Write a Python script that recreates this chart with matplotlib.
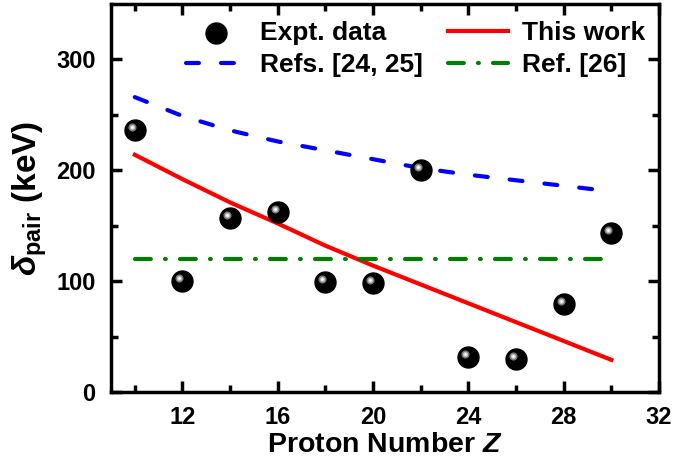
import numpy as np
import matplotlib.pyplot as plt
from matplotlib.transforms import offset_copy

plt.rcParams['font.family'] = ['Liberation Sans', 'DejaVu Sans']
plt.rcParams['font.weight'] = 'bold'
plt.rcParams['mathtext.fontset'] = 'custom'
plt.rcParams['mathtext.rm'] = 'Liberation Sans:bold'
plt.rcParams['mathtext.it'] = 'Liberation Sans:bold:italic'
plt.rcParams['mathtext.bf'] = 'Liberation Sans:bold'

# experimental pairing gaps
z_expt = [10, 12, 14, 16, 18, 20, 22, 24, 26, 28, 30]
d_expt = [236, 100, 157, 162, 99, 98, 200, 32, 30, 79, 143]

# curves
z_calc = [10, 12, 14, 16, 18, 20, 22, 24, 26, 28, 30]
d_this = [214, 192, 171, 152, 132, 114, 97, 80, 63, 46, 29]
d_ref2425 = [266, 249, 236, 226, 218, 210, 202, 196, 191, 186, 181]
d_ref26 = [120, 120, 120, 120, 120, 120, 120, 120, 120, 120, 120]

fig = plt.figure(figsize=(6.99, 4.67), dpi=100)
ax = fig.add_axes([0.1588, 0.1606, 0.784, 0.8308])

l_ref = ax.plot(z_calc, d_ref2425, color='blue', lw=3, ls=(0, (3.1, 5.3)),
                dash_capstyle='round')[0]
l_this = ax.plot(z_calc, d_this, color='red', lw=3)[0]
l_26 = ax.plot(z_calc, d_ref26, color='green', lw=3, ls=(0, (3.8, 3.4, 0.2, 3.4)),
               dash_capstyle='round')[0]

# shiny spheres: black ball + grey highlight
sc = ax.scatter(z_expt, d_expt, s=228, color='black', zorder=5)
hl = offset_copy(ax.transData, fig=fig, x=-3, y=3, units='dots')
ax.scatter(z_expt, d_expt, s=34, color='#7a7a7a', zorder=6, transform=hl, linewidths=0)
ax.scatter(z_expt, d_expt, s=14, color='#c0c0c0', zorder=7, transform=hl, linewidths=0)
ax.scatter(z_expt, d_expt, s=4, color='white', zorder=8, transform=hl, linewidths=0)

ax.set_xlim(9, 32)
ax.set_ylim(0, 350)
ax.set_xticks([12, 16, 20, 24, 28, 32])
ax.set_xticks([10, 14, 18, 22, 26, 30], minor=True)
ax.set_yticks([0, 100, 200, 300])
ax.set_yticks([50, 150, 250], minor=True)
ax.tick_params(which='both', direction='in', top=True, right=True, width=2.5, labelsize=17)
ax.tick_params(which='major', length=8)
ax.tick_params(axis='x', which='major', pad=10)
ax.tick_params(axis='y', which='major', pad=11)
ax.tick_params(which='minor', length=5)
for s in ax.spines.values():
    s.set_linewidth(2.5)

ax.set_xlabel('Proton Number $Z$', fontsize=20.5, fontweight='bold', labelpad=2)
ax.set_ylabel(r'$\delta_{\mathrm{pair}}$ (keV)', fontsize=24, fontweight='bold', labelpad=5)

ax.legend([sc, l_ref, l_this, l_26],
          ['Expt. data', 'Refs. [24, 25]', 'This work', 'Ref. [26]'],
          ncol=2, frameon=False, fontsize=19, loc='upper left',
          bbox_to_anchor=(186 / 699, 1 - 21 / 467), bbox_transform=fig.transFigure,
          borderpad=0, borderaxespad=0, handlelength=2.27, columnspacing=0.95,
          labelspacing=0.3, handletextpad=0.53)

fig.savefig('out.png', dpi=100)
